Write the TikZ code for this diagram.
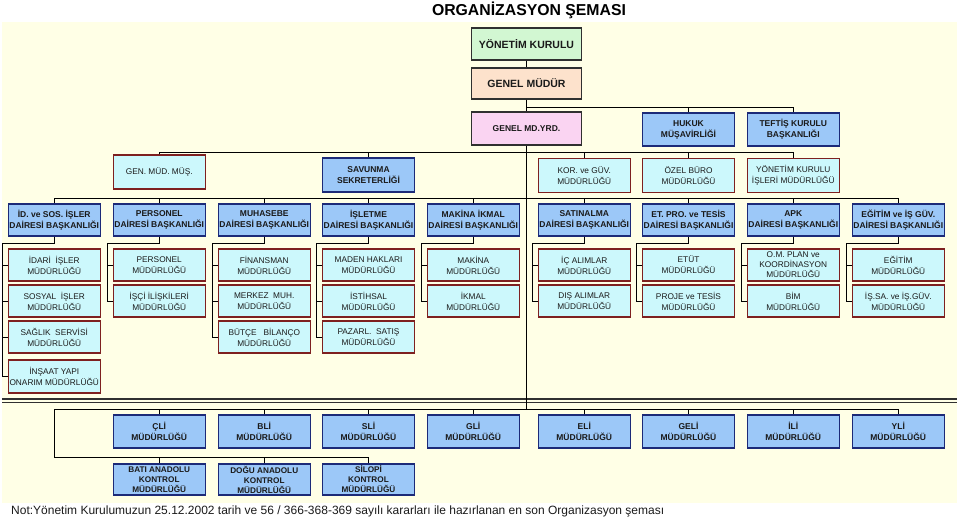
\documentclass[tikz,border=0pt]{standalone}
\usepackage{fontspec}
\setmainfont{Liberation Sans}
\definecolor{bgc}{HTML}{FFFFE6}
\definecolor{greenc}{HTML}{D2F7D2}
\definecolor{peachc}{HTML}{FDE2CC}
\definecolor{pinkc}{HTML}{FAD4F2}
\definecolor{bluec}{HTML}{9CC8F8}
\definecolor{cyanc}{HTML}{CCF8FC}
\definecolor{redb}{HTML}{7E2020}
\definecolor{blueb}{HTML}{1C2A78}
\definecolor{darkb}{HTML}{303030}
\definecolor{txt}{HTML}{1A1A1A}
\begin{document}
\begin{tikzpicture}[x=1pt,y=-1pt,
  box/.style={minimum width=92pt,minimum height=32pt,inner sep=0pt,align=center,line width=1.2pt,text=txt},
  cbox/.style={box,fill=cyanc,draw=redb,font=\fontsize{8.3}{11}\selectfont},
  bbox/.style={box,fill=bluec,draw=blueb,font=\fontsize{8.5}{11}\selectfont\bfseries},
  topbox/.style={box,minimum width=110pt,draw=darkb},
  conn/.style={line width=0.9pt,black},
]
\useasboundingbox (0,0) rectangle (960,518);
\fill[bgc] (2,22) rectangle (957,503);
\node[font=\fontsize{15.8}{18}\selectfont\bfseries] (title) at (529,10) {ORGANİZASYON ŞEMASI};

% top
\node[topbox,fill=greenc,minimum height=32pt,font=\fontsize{10.5}{12}\selectfont\bfseries] (yk) at (526.5,44) {YÖNETİM KURULU};
\node[topbox,fill=peachc,minimum height=31pt,font=\fontsize{10.5}{12}\selectfont\bfseries] (gm) at (526.5,83.5) {GENEL MÜDÜR};
\node[topbox,fill=pinkc,minimum height=33pt,font=\fontsize{8.5}{10}\selectfont\bfseries] (gy) at (526.5,128.5) {GENEL MD.YRD.};
\node[bbox,minimum height=33pt] (hk) at (688.5,129.5) {HUKUK\\MÜŞAVİRLİĞİ};
\node[bbox,minimum height=33pt] (tk) at (793.25,129.5) {TEFTİŞ KURULU\\BAŞKANLIĞI};

% row 2
\node[cbox,minimum height=34pt] (gmm) at (159.25,172) {GEN. MÜD. MÜŞ.};
\node[bbox,minimum height=34pt] (sav) at (368.5,175) {SAVUNMA\\SEKRETERLİĞİ};
\node[cbox,minimum height=34pt] (kor) at (584.25,175.5) {KOR. ve GÜV.\\MÜDÜRLÜĞÜ};
\node[cbox,minimum height=34pt] (oz) at (688.5,175.5) {ÖZEL BÜRO\\MÜDÜRLÜĞÜ};
\node[cbox,minimum height=34pt] (yki) at (793.25,175.5) {YÖNETİM KURULU\\İŞLERİ MÜDÜRLÜĞÜ};

% departments
\node[bbox] (d1) at (54.25,220) {İD. ve SOS. İŞLER\\DAİRESİ BAŞKANLIĞI};
\node[bbox] (d2) at (159.25,220) {PERSONEL\\DAİRESİ BAŞKANLIĞI};
\node[bbox] (d3) at (264.25,220) {MUHASEBE\\DAİRESİ BAŞKANLIĞI};
\node[bbox] (d4) at (368.5,220) {İŞLETME\\DAİRESİ BAŞKANLIĞI};
\node[bbox] (d5) at (473.25,220) {MAKİNA İKMAL\\DAİRESİ BAŞKANLIĞI};
\node[bbox] (d6) at (584.25,220) {SATINALMA\\DAİRESİ BAŞKANLIĞI};
\node[bbox] (d7) at (688.5,220) {ET. PRO. ve TESİS\\DAİRESİ BAŞKANLIĞI};
\node[bbox] (d8) at (793.25,220) {APK\\DAİRESİ BAŞKANLIĞI};
\node[bbox] (d9) at (898.25,220) {EĞİTİM ve İŞ GÜV.\\DAİRESİ BAŞKANLIĞI};

% children
\node[cbox] (c1a) at (54.25,265) {İDARİ\ \ İŞLER\\MÜDÜRLÜĞÜ};
\node[cbox] (c1b) at (54.25,301) {SOSYAL\ \ İŞLER\\MÜDÜRLÜĞÜ};
\node[cbox] (c1c) at (54.25,337) {SAĞLIK\ \ SERVİSİ\\MÜDÜRLÜĞÜ};
\node[cbox,minimum height=33pt] (c1d) at (54.25,376.5) {İNŞAAT YAPI\\ONARIM MÜDÜRLÜĞÜ};
\node[cbox] (c2a) at (159.25,265) {PERSONEL\\MÜDÜRLÜĞÜ};
\node[cbox] (c2b) at (159.25,301) {İŞÇİ İLİŞKİLERİ\\MÜDÜRLÜĞÜ};
\node[cbox] (c3a) at (264.25,265) {FİNANSMAN\\MÜDÜRLÜĞÜ};
\node[cbox] (c3b) at (264.25,301) {MERKEZ\ \ MUH.\\MÜDÜRLÜĞÜ};
\node[cbox] (c3c) at (264.25,337) {BÜTÇE\ \ \ BİLANÇO\\MÜDÜRLÜĞÜ};
\node[cbox] (c4a) at (368.5,265) {MADEN HAKLARI\\MÜDÜRLÜĞÜ};
\node[cbox] (c4b) at (368.5,301) {İSTİHSAL\\MÜDÜRLÜĞÜ};
\node[cbox] (c4c) at (368.5,337) {PAZARL.\ \ SATIŞ\\MÜDÜRLÜĞÜ};
\node[cbox] (c5a) at (473.25,265) {MAKİNA\\MÜDÜRLÜĞÜ};
\node[cbox] (c5b) at (473.25,301) {İKMAL\\MÜDÜRLÜĞÜ};
\node[cbox] (c6a) at (584.25,265) {İÇ ALIMLAR\\MÜDÜRLÜĞÜ};
\node[cbox] (c6b) at (584.25,301) {DIŞ ALIMLAR\\MÜDÜRLÜĞÜ};
\node[cbox] (c7a) at (688.5,265) {ETÜT\\MÜDÜRLÜĞÜ};
\node[cbox] (c7b) at (688.5,301) {PROJE ve TESİS\\MÜDÜRLÜĞÜ};
\node[cbox,font=\fontsize{8.3}{10}\selectfont] (c8a) at (793.25,265) {O.M. PLAN ve\\KOORDİNASYON\\MÜDÜRLÜĞÜ};
\node[cbox] (c8b) at (793.25,301) {BİM\\MÜDÜRLÜĞÜ};
\node[cbox] (c9a) at (898.25,265) {EĞİTİM\\MÜDÜRLÜĞÜ};
\node[cbox] (c9b) at (898.25,301) {İŞ.SA. ve İŞ.GÜV.\\MÜDÜRLÜĞÜ};

% double line
\draw[darkb,line width=1.3pt] (2,399) -- (957,399);
\draw[darkb,line width=1.3pt] (2,402.5) -- (957,402.5);

% regional
\node[bbox,minimum height=33pt] (r1) at (159.25,431.5) {ÇLİ\\MÜDÜRLÜĞÜ};
\node[bbox,minimum height=33pt] (r2) at (264.25,431.5) {BLİ\\MÜDÜRLÜĞÜ};
\node[bbox,minimum height=33pt] (r3) at (368.5,431.5) {SLİ\\MÜDÜRLÜĞÜ};
\node[bbox,minimum height=33pt] (r4) at (473.25,431.5) {GLİ\\MÜDÜRLÜĞÜ};
\node[bbox,minimum height=33pt] (r5) at (584.25,431.5) {ELİ\\MÜDÜRLÜĞÜ};
\node[bbox,minimum height=33pt] (r6) at (688.5,431.5) {GELİ\\MÜDÜRLÜĞÜ};
\node[bbox,minimum height=33pt] (r7) at (793.25,431.5) {İLİ\\MÜDÜRLÜĞÜ};
\node[bbox,minimum height=33pt] (r8) at (898.25,431.5) {YLİ\\MÜDÜRLÜĞÜ};
\node[bbox,minimum height=31pt,font=\fontsize{8.2}{10}\selectfont\bfseries] (b1) at (159.25,479.5) {BATI ANADOLU\\KONTROL\\MÜDÜRLÜĞÜ};
\node[bbox,minimum height=31pt,font=\fontsize{8.2}{10}\selectfont\bfseries] (b2) at (264.25,479.5) {DOĞU ANADOLU\\KONTROL\\MÜDÜRLÜĞÜ};
\node[bbox,minimum height=31pt,font=\fontsize{8.2}{10}\selectfont\bfseries] (b3) at (368.5,479.5) {SİLOPİ\\KONTROL\\MÜDÜRLÜĞÜ};

% bus coordinates
\coordinate (busA) at (526.5,107);
\coordinate (busB) at (526.5,152.5);
\coordinate (busC) at (526.5,198);
\coordinate (busD) at (526.5,409.5);
\coordinate (rTop) at (54.5,409.5);
\coordinate (rBot) at (54.5,457.5);

% connectors
\draw[conn] (yk) -- (gm);
\draw[conn] (gm) -- (gy);
\draw[conn] (gm.south) -- (busA) -| (tk.north);
\draw[conn] (hk.north) -- (hk.north |- busA);
\draw[conn] (gy.south) -- (busD);
\draw[conn] (gmm.north) |- (yki.north |- busB) -- (yki.north);
\foreach \n in {sav,kor,oz} \draw[conn] (\n.north) -- (\n.north |- busB);
\draw[conn] (d1.north) |- (d9.north |- busC) -- (d9.north);
\foreach \n in {d2,d3,d4,d5,d6,d7,d8} \draw[conn] (\n.north) -- (\n.north |- busC);
% children connectors
\foreach \d/\last/\others in {1/c1d/{c1a,c1b,c1c},2/c2b/{c2a},3/c3c/{c3a,c3b},4/c4c/{c4a,c4b},5/c5b/{c5a},6/c6b/{c6a},7/c7b/{c7a},8/c8b/{c8a},9/c9b/{c9a}}{
  \draw[conn] (d\d.south) -- ++(0,7) -| ([xshift=-5.5pt]\last.west) -- (\last.west);
  \foreach \o in \others \draw[conn] ([xshift=-5.5pt]\o.west) -- (\o.west);
}
% regional connectors
\draw[conn] (r8.north) |- (rTop) -- (rBot) -| (b3.north);
\foreach \n in {r1,r2,r3,r4,r5,r6,r7} \draw[conn] (\n.north) -- (\n.north |- rTop);
\foreach \n in {b1,b2} \draw[conn] (\n.north) -- (\n.north |- rBot);

\node[anchor=west,font=\fontsize{12}{14}\selectfont,text=txt,inner sep=0pt] (note) at (11,511) {Not:Yönetim Kurulumuzun 25.12.2002 tarih ve 56 / 366-368-369 sayılı kararları ile hazırlanan en son Organizasyon şeması};
\end{tikzpicture}
\end{document}
